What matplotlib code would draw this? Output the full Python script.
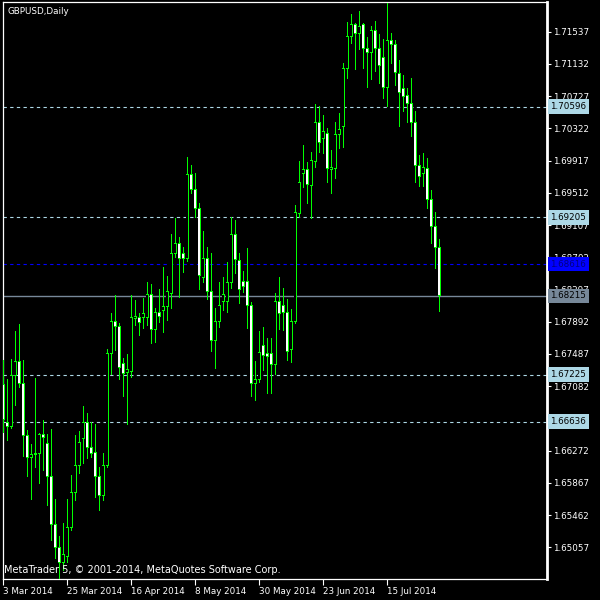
import matplotlib
matplotlib.use("Agg")
import matplotlib.pyplot as plt
import matplotlib.transforms as mtrans

symbol = "GBPUSD,Daily"
watermark = "MetaTrader 5, \u00a9 2001-2014, MetaQuotes Software Corp."

# daily bars, 3 Mar 2014 .. 1 Aug 2014
opens = [1.6710, 1.6663, 1.6657, 1.6721, 1.6739, 1.6712, 1.6646, 1.6618, 1.6622, 1.6624,
         1.6647, 1.6636, 1.6595, 1.6534, 1.6505, 1.6486, 1.6494, 1.6531, 1.6575, 1.6608,
         1.6642, 1.6663, 1.6631, 1.6625, 1.6594, 1.6571, 1.6609, 1.6749, 1.6790, 1.6783,
         1.6737, 1.6725, 1.6727, 1.6793, 1.6794, 1.6794, 1.6794, 1.6824, 1.6780, 1.6801,
         1.6803, 1.6808, 1.6825, 1.6875, 1.6888, 1.6875, 1.6868, 1.6974, 1.6955, 1.6931,
         1.6845, 1.6868, 1.6827, 1.6765, 1.6789, 1.6814, 1.6814, 1.6838, 1.6899, 1.6866,
         1.6840, 1.6840, 1.6809, 1.6711, 1.6717, 1.6759, 1.6749, 1.6749, 1.6736, 1.6814,
         1.6809, 1.6801, 1.6754, 1.6789, 1.6925, 1.6976, 1.6980, 1.6960, 1.6991, 1.7040,
         1.7020, 1.7026, 1.6981, 1.6982, 1.7025, 1.7035, 1.7108, 1.7148, 1.7163, 1.7152,
         1.7163, 1.7132, 1.7128, 1.7155, 1.7132, 1.7121, 1.7084, 1.7142, 1.7138, 1.7101,
         1.7082, 1.7073, 1.7064, 1.7039, 1.6986, 1.6975, 1.6982, 1.6943, 1.6909, 1.6883]
highs = [1.6741, 1.6717, 1.6742, 1.6778, 1.6786, 1.6741, 1.6653, 1.6636, 1.6719, 1.6649,
         1.6666, 1.6648, 1.6654, 1.6566, 1.6520, 1.6536, 1.6566, 1.6597, 1.6647, 1.6652,
         1.6683, 1.6675, 1.6663, 1.6661, 1.6606, 1.6624, 1.6755, 1.6800, 1.6823, 1.6788,
         1.6744, 1.6749, 1.6823, 1.6816, 1.6800, 1.6819, 1.6839, 1.6837, 1.6806, 1.6830,
         1.6858, 1.6847, 1.6900, 1.6920, 1.6896, 1.6883, 1.6996, 1.6986, 1.6976, 1.6938,
         1.6903, 1.6883, 1.6875, 1.6806, 1.6839, 1.6845, 1.6864, 1.6921, 1.6917, 1.6876,
         1.6853, 1.6882, 1.6814, 1.6740, 1.6778, 1.6783, 1.6769, 1.6769, 1.6825, 1.6845,
         1.6832, 1.6818, 1.6805, 1.6936, 1.6991, 1.7011, 1.6990, 1.7002, 1.7063, 1.7060,
         1.7049, 1.7033, 1.7005, 1.7040, 1.7052, 1.7114, 1.7166, 1.7176, 1.7165, 1.7180,
         1.7165, 1.7147, 1.7161, 1.7167, 1.7151, 1.7145, 1.7190, 1.7152, 1.7143, 1.7118,
         1.7099, 1.7083, 1.7095, 1.7054, 1.6999, 1.7001, 1.6995, 1.6955, 1.6927, 1.6893]
lows = [1.6651, 1.6641, 1.6656, 1.6685, 1.6707, 1.6620, 1.6595, 1.6566, 1.6606, 1.6587,
        1.6603, 1.6559, 1.6515, 1.6492, 1.6467, 1.6477, 1.6487, 1.6527, 1.6565, 1.6599,
        1.6612, 1.6618, 1.6619, 1.6569, 1.6552, 1.6565, 1.6607, 1.6724, 1.6754, 1.6717,
        1.6696, 1.6661, 1.6720, 1.6785, 1.6772, 1.6781, 1.6785, 1.6762, 1.6764, 1.6789,
        1.6776, 1.6791, 1.6806, 1.6871, 1.6820, 1.6852, 1.6866, 1.6951, 1.6921, 1.6830,
        1.6839, 1.6818, 1.6752, 1.6731, 1.6783, 1.6804, 1.6801, 1.6832, 1.6850, 1.6813,
        1.6827, 1.6781, 1.6696, 1.6691, 1.6714, 1.6729, 1.6700, 1.6700, 1.6723, 1.6780,
        1.6779, 1.6741, 1.6739, 1.6788, 1.6921, 1.6959, 1.6938, 1.6920, 1.6983, 1.7002,
        1.7001, 1.6965, 1.6951, 1.6970, 1.7008, 1.7009, 1.7095, 1.7139, 1.7107, 1.7132,
        1.7108, 1.7084, 1.7094, 1.7104, 1.7089, 1.7070, 1.7060, 1.7114, 1.7087, 1.7035,
        1.7054, 1.7040, 1.7023, 1.6965, 1.6960, 1.6960, 1.6932, 1.6888, 1.6857, 1.6803]
closes = [1.6666, 1.6657, 1.6721, 1.6739, 1.6712, 1.6646, 1.6618, 1.6622, 1.6624, 1.6647,
          1.6644, 1.6594, 1.6534, 1.6505, 1.6486, 1.6496, 1.6531, 1.6575, 1.6608, 1.6637,
          1.6663, 1.6631, 1.6624, 1.6594, 1.6571, 1.6609, 1.6749, 1.6790, 1.6783, 1.6731,
          1.6724, 1.6729, 1.6795, 1.6796, 1.6788, 1.6800, 1.6824, 1.6780, 1.6801, 1.6796,
          1.6808, 1.6827, 1.6875, 1.6888, 1.6869, 1.6868, 1.6974, 1.6955, 1.6931, 1.6847,
          1.6868, 1.6827, 1.6765, 1.6789, 1.6809, 1.6823, 1.6838, 1.6899, 1.6867, 1.6830,
          1.6833, 1.6809, 1.6711, 1.6717, 1.6751, 1.6747, 1.6745, 1.6736, 1.6814, 1.6800,
          1.6801, 1.6752, 1.6789, 1.6926, 1.6964, 1.6980, 1.6962, 1.6992, 1.7039, 1.7014,
          1.7028, 1.6982, 1.6983, 1.7025, 1.7031, 1.7108, 1.7148, 1.7163, 1.7152, 1.7160,
          1.7132, 1.7128, 1.7155, 1.7132, 1.7111, 1.7084, 1.7142, 1.7137, 1.7102, 1.7077,
          1.7072, 1.7064, 1.7039, 1.6986, 1.6972, 1.6983, 1.6943, 1.6909, 1.6883, 1.68215]

date_ticks = [0, 16, 32, 48, 64, 80, 96]
date_labels = ["3 Mar 2014", "25 Mar 2014", "16 Apr 2014", "8 May 2014",
               "30 May 2014", "23 Jun 2014", "15 Jul 2014"]

price_ticks = [1.71537, 1.71132, 1.70727, 1.70322, 1.69917, 1.69512, 1.69107, 1.68702,
               1.68297, 1.67892, 1.67487, 1.67082, 1.66677, 1.66272, 1.65867, 1.65462, 1.65057]

levels = [1.70596, 1.69205, 1.67225, 1.66636]
ask_level = 1.68616
bid_level = 1.68215

GREEN = "#00ff00"
LBLUE = "#add8e6"
FS = 6.3

fig = plt.figure(figsize=(6, 6), dpi=100, facecolor="black")
ax = fig.add_axes([2.5 / 600, 21 / 600, 544.5 / 600, 577 / 600])
ax.set_facecolor("black")
ax.set_xlim(-0.125, 136)
ax.set_ylim(1.64658, 1.71910)

# size of one screen pixel in data units
px_x = (136 + 0.125) / 544.5
px_y = (1.71910 - 1.64658) / 577

n = len(opens)
xs = list(range(n))

# wicks, then green body, then inner fill (white = down, black = up)
ax.vlines(xs, lows, highs, color=GREEN, lw=0.72, zorder=3, antialiased=False)
for i in range(n):
    o, c = opens[i], closes[i]
    lo, hi = min(o, c), max(o, c)
    if hi - lo < px_y:
        hi = lo + px_y
    ax.bar(i, hi - lo + px_y, bottom=lo - px_y / 2, width=3 * px_x, color=GREEN,
           linewidth=0, zorder=4, antialiased=False)
    if hi - lo > 1.5 * px_y:
        fill = "white" if c < o else "black"
        ax.bar(i, hi - lo - px_y, bottom=lo + px_y / 2, width=1.2 * px_x, color=fill,
               linewidth=0, zorder=5, antialiased=False)

for lv in levels:
    ax.axhline(lv, color=LBLUE, lw=0.8, ls=(0, (3, 3)), zorder=2)
ax.axhline(ask_level, color="#0000ff", lw=0.8, ls=(0, (3, 3)), zorder=2)
ax.axhline(bid_level, color="#778899", lw=1.0, zorder=2)

# price scale
ax.yaxis.tick_right()
ax.set_yticks(price_ticks)
ax.set_yticklabels(["%.5f" % p for p in price_ticks])
ax.tick_params(axis="y", colors="white", labelsize=FS, length=3, width=0.8, pad=1.5,
               direction="out")
ax.set_xticks(date_ticks)
ax.set_xticklabels(date_labels)
ax.tick_params(axis="x", colors="white", labelsize=FS, length=4, width=0.8, pad=1.5,
               direction="out")
for lab in ax.get_xticklabels():
    lab.set_horizontalalignment("left")

for side in ["top", "left", "bottom"]:
    ax.spines[side].set_color("white")
    ax.spines[side].set_linewidth(0.9)
ax.spines["right"].set_color("white")
ax.spines["right"].set_linewidth(2.0)

# price labels on the scale
trans = mtrans.blended_transform_factory(ax.transAxes, ax.transData)
label_x = 1.0 + 3.5 / 544.5
box = dict(edgecolor="none", pad=2.0)
for lv in levels:
    ax.text(label_x, lv, "%.5f" % lv, transform=trans, color="black", fontsize=FS,
            va="center", ha="left", clip_on=False, zorder=10,
            bbox=dict(box, facecolor=LBLUE))
ax.text(label_x, ask_level, "%.5f" % ask_level, transform=trans, color="#000080",
        fontsize=FS, va="center", ha="left", clip_on=False, zorder=10,
        bbox=dict(box, facecolor="#0000ff"))
ax.text(label_x, bid_level, "%.5f" % bid_level, transform=trans, color="black",
        fontsize=FS, va="center", ha="left", clip_on=False, zorder=10,
        bbox=dict(box, facecolor="#778899"))

ax.text(5 / 544.5, 1 - 9 / 577, symbol, transform=ax.transAxes, color="white",
        fontsize=FS, va="center", ha="left", zorder=10)
ax.text(1.5 / 544.5, 1 - 568 / 577, watermark, transform=ax.transAxes, color="white",
        fontsize=7, va="center", ha="left", zorder=10)

fig.savefig("out.png", dpi=100, facecolor="black")
